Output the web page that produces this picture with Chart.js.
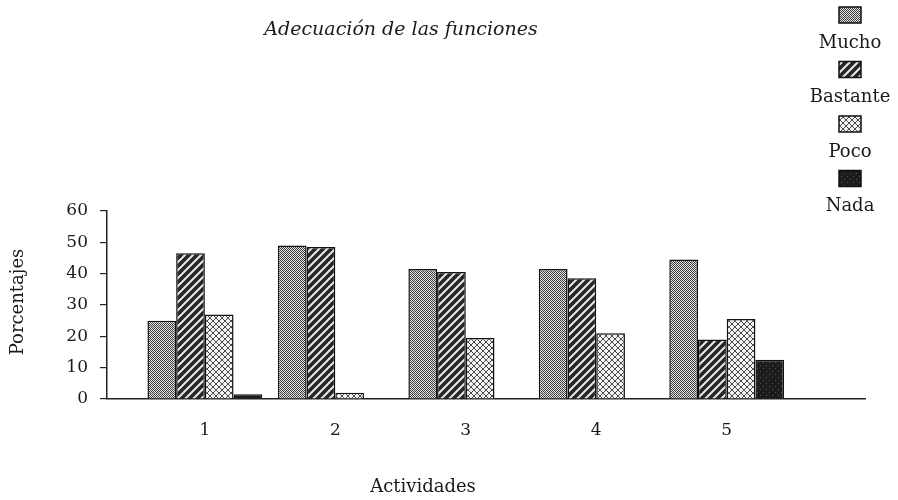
<!DOCTYPE html>
<html>
<head>
<meta charset="utf-8">
<script src="https://cdn.jsdelivr.net/npm/chart.js@4/dist/chart.umd.min.js"></script>
<style>
  body { margin: 0; background: #fff; }
</style>
</head>
<body>
<canvas id="grafico" width="898" height="500"></canvas>
<script>
// Datos
let actividades = [1, 2, 3, 4, 5];
let series = ['Mucho', 'Bastante', 'Poco', 'Nada'];
let mucho = [25, 49, 41.5, 41.5, 44.5];
let bastante = [46.5, 48.5, 40.5, 38.5, 19];
let poco = [27, 2, 19.5, 21, 25.5];
let nada = [1.5, 0, 0, 0, 12.5];
let ticksY = [0, 10, 20, 30, 40, 50, 60];

let fuente = "'DejaVu Serif', 'Liberation Serif', serif";

// Tramas de relleno (como en la fotocopia original)
function crearTrama(tipo) {
    let c = document.createElement('canvas');
    let ctx = c.getContext('2d');
    if (tipo === 'mucho') {
        c.width = 4; c.height = 4;
        ctx.fillStyle = '#dcdcdc';
        ctx.fillRect(0, 0, 4, 4);
        ctx.fillStyle = '#404040';
        for (let x = 0; x < 4; x++) {
            for (let y = 0; y < 4; y++) {
                if ((x + y) % 2 === 0) ctx.fillRect(x, y, 1, 1);
            }
        }
        ctx.fillStyle = '#f4f4f4';
        ctx.fillRect(1, 2, 1, 1);
        ctx.fillRect(3, 0, 1, 1);
    } else if (tipo === 'bastante') {
        c.width = 8; c.height = 8;
        ctx.fillStyle = '#262626';
        ctx.fillRect(0, 0, 8, 8);
        ctx.strokeStyle = '#e8e8e8';
        ctx.lineWidth = 2;
        ctx.beginPath();
        ctx.moveTo(-2, 10); ctx.lineTo(10, -2);
        ctx.moveTo(-6, 6); ctx.lineTo(6, -6);
        ctx.moveTo(2, 14); ctx.lineTo(14, 2);
        ctx.stroke();
    } else if (tipo === 'poco') {
        c.width = 6; c.height = 6;
        ctx.fillStyle = '#f2f2f2';
        ctx.fillRect(0, 0, 6, 6);
        ctx.fillStyle = '#4a4a4a';
        for (let i = 0; i < 6; i++) {
            ctx.fillRect(i, i, 1, 1);
            ctx.fillRect(5 - i, i, 1, 1);
        }
    } else {
        c.width = 6; c.height = 6;
        ctx.fillStyle = '#1c1c1c';
        ctx.fillRect(0, 0, 6, 6);
        ctx.fillStyle = '#555';
        ctx.fillRect(1, 2, 1, 1);
        ctx.fillRect(4, 5, 1, 1);
    }
    return document.getElementById('grafico').getContext('2d').createPattern(c, 'repeat');
}

function puntos(valores) {
    return actividades.map((a, i) => ({ x: a, y: valores[i] }));
}

// Titulo, rotulos de ejes y leyenda vertical a la derecha
const textosPlugin = {
    id: 'textos',
    afterDraw(chart) {
        let ctx = chart.ctx;
        ctx.save();
        ctx.fillStyle = '#1a1a1a';
        ctx.textAlign = 'center';
        ctx.textBaseline = 'middle';

        ctx.font = 'italic 19px ' + fuente;
        ctx.fillText('Adecuación de las funciones', 401, 30);

        ctx.font = '18px ' + fuente;
        ctx.fillText('Actividades', 423, 487);

        ctx.save();
        ctx.translate(18, 302);
        ctx.rotate(-Math.PI / 2);
        ctx.fillText('Porcentajes', 0, 0);
        ctx.restore();

        ctx.font = '18px ' + fuente;
        chart.data.datasets.forEach((ds, i) => {
            let yCaja = 15 + i * 54.5;
            ctx.fillStyle = ds.backgroundColor;
            ctx.fillRect(839, yCaja - 8, 22, 16);
            ctx.strokeStyle = '#111';
            ctx.lineWidth = 1.5;
            ctx.strokeRect(839, yCaja - 8, 22, 16);
            ctx.fillStyle = '#1a1a1a';
            ctx.fillText(ds.label, 850, yCaja + 28);
        });
        ctx.restore();
    }
};

window.addEventListener('load', function() {
    let ctx = document.getElementById('grafico').getContext('2d');
    let tramas = [crearTrama('mucho'), crearTrama('bastante'), crearTrama('poco'), crearTrama('nada')];
    let valores = [mucho, bastante, poco, nada];

    new Chart(ctx, {
        type: 'bar',
        data: {
            datasets: series.map((s, i) => ({
                label: s,
                data: puntos(valores[i]),
                backgroundColor: tramas[i],
                borderColor: '#111',
                borderWidth: 1.5
            }))
        },
        options: {
            responsive: false,
            animation: false,
            layout: { padding: { top: 211, right: 33, left: 0, bottom: 0 } },
            categoryPercentage: 0.88,
            barPercentage: 1.0,
            plugins: {
                legend: { display: false },
                title: { display: false },
                tooltip: { enabled: false }
            },
            scales: {
                x: {
                    type: 'linear',
                    offset: false,
                    min: 0.25,
                    max: 6.06,
                    afterBuildTicks: function(scale) {
                        scale.ticks = actividades.map(v => ({ value: v }));
                    },
                    afterFit: function(scale) { scale.height = 101; },
                    grid: { display: true, offset: false, drawOnChartArea: false, drawTicks: false },
                    border: { display: true, color: '#222', width: 1.5 },
                    ticks: {
                        padding: 21,
                        color: '#1a1a1a',
                        font: { family: fuente, size: 17 }
                    }
                },
                y: {
                    min: 0,
                    max: 60,
                    afterBuildTicks: function(scale) {
                        scale.ticks = ticksY.map(v => ({ value: v }));
                    },
                    afterFit: function(scale) { scale.width = 107; },
                    grid: { drawOnChartArea: false, tickLength: 7, color: '#222', lineWidth: 1.2 },
                    border: { display: true, color: '#222', width: 1.5 },
                    ticks: {
                        padding: 12,
                        color: '#1a1a1a',
                        font: { family: fuente, size: 17 }
                    }
                }
            }
        },
        plugins: [textosPlugin]
    });
});
</script>
</body>
</html>
